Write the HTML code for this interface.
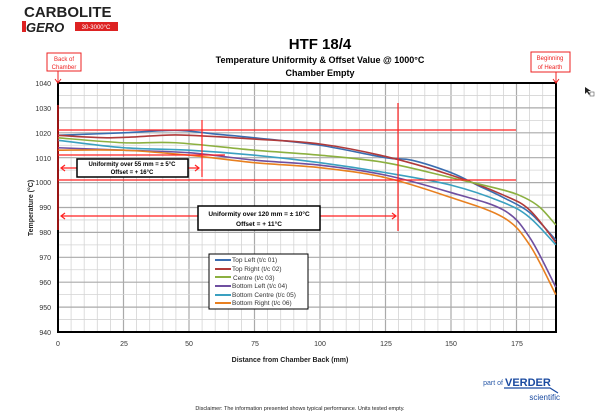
<!DOCTYPE html>
<html><head><meta charset="utf-8"><style>
html,body{margin:0;padding:0;background:#fff;width:600px;height:416px;overflow:hidden}
svg{display:block;font-family:"Liberation Sans",sans-serif}
</style></head><body>
<svg id="s" width="600" height="416" viewBox="0 0 600 416">
<g id="grid"></g>
<rect x="58" y="83" width="498" height="249" fill="none" stroke="#000" stroke-width="2"/>
<g font-size="7" fill="#333" text-anchor="end">
<text x="51" y="86">1040</text><text x="51" y="111">1030</text><text x="51" y="136">1020</text><text x="51" y="161">1010</text><text x="51" y="185">1000</text><text x="51" y="210">990</text><text x="51" y="235">980</text><text x="51" y="260">970</text><text x="51" y="285">960</text><text x="51" y="310">950</text><text x="51" y="335">940</text>
</g>
<g font-size="7" fill="#333" text-anchor="middle">
<text x="58" y="346">0</text><text x="124" y="346">25</text><text x="189" y="346">50</text><text x="255" y="346">75</text><text x="320" y="346">100</text><text x="386" y="346">125</text><text x="451" y="346">150</text><text x="517" y="346">175</text>
</g>
<text x="290" y="362" font-size="7" font-weight="bold" text-anchor="middle" fill="#222">Distance from Chamber Back (mm)</text>
<text transform="translate(33,208) rotate(-90)" font-size="7" font-weight="bold" text-anchor="middle" fill="#222">Temperature  (°C)</text>
<text x="320" y="49" font-size="15" font-weight="bold" text-anchor="middle">HTF 18/4</text>
<text x="320" y="63" font-size="9" font-weight="bold" text-anchor="middle">Temperature Uniformity &amp; Offset Value @ 1000°C</text>
<text x="320" y="76" font-size="9" font-weight="bold" text-anchor="middle">Chamber Empty</text>
<text x="24" y="17" font-size="15" font-weight="bold" fill="#222">CARBOLITE</text>
<text x="26" y="32" font-size="13" font-weight="bold" font-style="italic" fill="#222">GERO</text>
<rect x="22" y="21" width="4" height="11" fill="#d22"/>
<rect x="75" y="22" width="43" height="9" fill="#d22"/>
<text x="96" y="29" font-size="6" fill="#fff" text-anchor="middle">30-3000°C</text>
<g fill="none" stroke="#e22" stroke-width="1">
<rect x="47" y="53" width="34" height="18" fill="#fff"/>
<rect x="531" y="52" width="39" height="20" fill="#fff"/>
<line x1="58" y1="71" x2="58" y2="82"/><path d="M55 79 L58 83 L61 79"/>
<line x1="556" y1="72" x2="556" y2="82"/><path d="M553 79 L556 83 L559 79"/>
</g>
<g font-size="6" fill="#e22" text-anchor="middle">
<text x="64" y="61">Back of</text><text x="64" y="69">Chamber</text>
<text x="550" y="60">Beginning</text><text x="550" y="69">of Hearth</text>
</g>
<g id="curves"></g>
<g stroke="#f22" stroke-width="1.2" fill="none">
<line x1="58" y1="130" x2="516" y2="130"/>
<line x1="58" y1="180" x2="516" y2="180"/>
<line x1="58" y1="155" x2="225" y2="155"/>
<line x1="58" y1="105" x2="58" y2="230"/>
<line x1="202" y1="120" x2="202" y2="177"/>
<line x1="398" y1="103" x2="398" y2="231"/>
<line x1="61" y1="168" x2="199" y2="168"/>
<path d="M65 165 L61 168 L65 171 M195 165 L199 168 L195 171"/>
<line x1="61" y1="216" x2="396" y2="216"/>
<path d="M65 213 L61 216 L65 219 M392 213 L396 216 L392 219"/>
</g>
<rect x="77" y="159" width="111" height="18" fill="#fff" stroke="#000" stroke-width="1.5"/>
<text x="132" y="166" font-size="6" font-weight="bold" text-anchor="middle">Uniformity over 55 mm = ± 5°C</text>
<text x="132" y="174" font-size="6" font-weight="bold" text-anchor="middle">Offset = + 16°C</text>
<rect x="198" y="206" width="122" height="24" fill="#fff" stroke="#000" stroke-width="1.5"/>
<text x="259" y="216" font-size="6.5" font-weight="bold" text-anchor="middle">Uniformity over 120 mm = ± 10°C</text>
<text x="259" y="226" font-size="6.5" font-weight="bold" text-anchor="middle">Offset = + 11°C</text>
<rect x="209" y="254" width="99" height="55" fill="#fff" stroke="#000" stroke-width="1"/>
<g font-size="6.5" fill="#333">
<text x="232" y="262">Top Left (t/c 01)</text>
<text x="232" y="271">Top Right (t/c 02)</text>
<text x="233" y="280">Centre (t/c 03)</text>
<text x="232" y="288">Bottom Left (t/c 04)</text>
<text x="232" y="297">Bottom Centre (t/c 05)</text>
<text x="232" y="305">Bottom Right (t/c 06)</text>
</g>
<g stroke-width="2">
<line x1="215" y1="260" x2="231" y2="260" stroke="#3a6db0"/>
<line x1="215" y1="269" x2="231" y2="269" stroke="#b03a3a"/>
<line x1="215" y1="277" x2="231" y2="277" stroke="#8cb040"/>
<line x1="215" y1="286" x2="231" y2="286" stroke="#6f4fa0"/>
<line x1="215" y1="295" x2="231" y2="295" stroke="#3aa0c0"/>
<line x1="215" y1="303" x2="231" y2="303" stroke="#e88020"/>
</g>
<text x="503" y="385" font-size="7" fill="#2a5aa8" text-anchor="end">part of</text>
<text x="505" y="386" font-size="11" font-weight="bold" fill="#1a4aa0">VERDER</text>
<path d="M504 388 H550 L558 393" stroke="#1a4aa0" fill="none" stroke-width="1.2"/>
<text x="560" y="400" font-size="8" fill="#1a4aa0" text-anchor="end">scientific</text>
<text x="300" y="410" font-size="5.5" fill="#222" text-anchor="middle">Disclaimer: The information presented shows typical performance.  Units tested empty.</text>
<g fill="#222"><path d="M585 87 L585 94 L587 92 L589 95 L590 94 L588 91 L591 91Z"/><rect x="590" y="92" width="4" height="4" fill="none" stroke="#555" stroke-width="0.6"/></g>
</svg>
<script>
function X(m){return 58+2.62*m}function Y(v){return 83+(1040-v)*2.49}
var g=document.getElementById("grid"),h="";
for(var m=5;m<190;m+=5){var maj=m%25==0;h+='<line x1="'+X(m)+'" y1="83" x2="'+X(m)+'" y2="332" stroke="'+(maj?'#aaa':'#d4d4d4')+'" stroke-width="'+(maj?1.2:0.8)+'"/>';}
for(var v=945;v<1040;v+=5){var maj=v%10==0;h+='<line x1="58" y1="'+Y(v)+'" x2="556" y2="'+Y(v)+'" stroke="'+(maj?'#aaa':'#d4d4d4')+'" stroke-width="'+(maj?1.2:0.8)+'"/>';}
g.innerHTML=h;
var S=[
["#3a6db0",[[0,1019],[25,1020],[45,1021],[60,1019.5],[75,1018],[100,1015],[125,1010],[135,1009],[150,1004],[160,999],[170,994],[180,988],[190,977]]],
["#b03a3a",[[0,1019],[20,1018],[40,1019],[50,1019],[75,1017.5],[100,1015.5],[125,1010.5],[150,1003],[170,995],[180,989],[190,976]]],
["#8cb040",[[0,1018],[25,1016],[45,1016],[75,1013],[100,1011],[125,1008],[150,1002],[170,997],[178,994],[184,990],[190,983]]],
["#6f4fa0",[[0,1014],[25,1013],[50,1012],[75,1009],[100,1007],[125,1003],[150,996],[170,989],[180,978],[190,958]]],
["#3aa0c0",[[0,1017],[25,1014],[50,1013],[75,1011],[100,1008],[125,1004],[150,999],[170,992],[180,986],[190,975]]],
["#e88020",[[0,1013],[25,1013],[50,1011],[75,1008],[100,1006],[125,1002],[150,994],[170,986],[180,975],[190,955]]]];
var c="";
S.forEach(function(s){var p=s[1].map(function(q){return[X(q[0]),Y(q[1])]});
var d="M"+p[0][0]+" "+p[0][1];
for(var i=0;i<p.length-1;i++){var p0=p[i-1]||p[i],p1=p[i],p2=p[i+1],p3=p[i+2]||p2;
d+=" C"+(p1[0]+(p2[0]-p0[0])/6)+" "+(p1[1]+(p2[1]-p0[1])/6)+" "+(p2[0]-(p3[0]-p1[0])/6)+" "+(p2[1]-(p3[1]-p1[1])/6)+" "+p2[0]+" "+p2[1];}
c+='<path d="'+d+'" fill="none" stroke="'+s[0]+'" stroke-width="1.6"/>';});
document.getElementById("curves").innerHTML=c;
</script>
</body></html>
